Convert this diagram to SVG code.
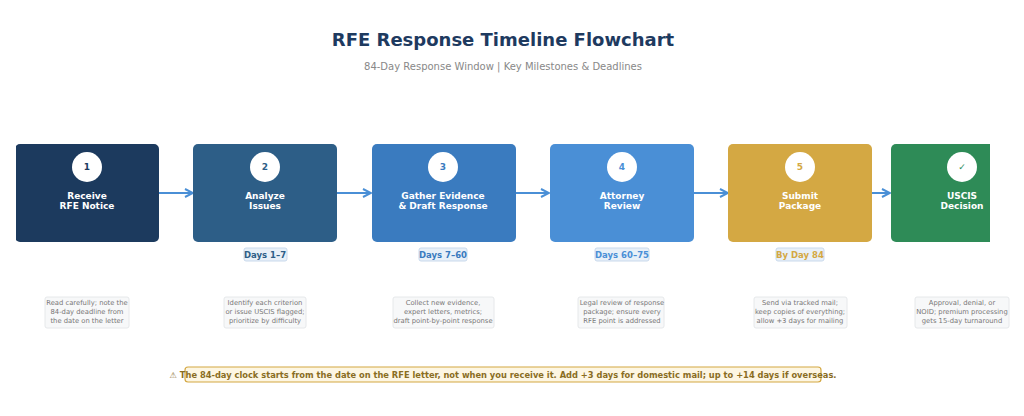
<svg xmlns="http://www.w3.org/2000/svg" width="1024" height="416" viewBox="0 0 1024 416">
<defs>
<style>
text{font-family:"DejaVu Sans",sans-serif;text-anchor:middle}
.t{font-size:18px;font-weight:bold;fill:#1e3a5f}
.s{font-size:10px;fill:#888}
.n{font-size:9px;font-weight:bold;fill:#fff}
.c{font-size:9px;font-weight:bold}
.b{font-size:8.5px;font-weight:bold}
.bb{fill:#e8f0f8;stroke:#c9d9ec;stroke-width:1}
.nb{fill:#f7f8f9;stroke:#e6e8ea;stroke-width:1}
.nt{font-size:6.8px;fill:#777}
.ar{stroke:#4a8fd6;stroke-width:2;fill:none;marker-end:url(#ah)}
</style>
<marker id="ah" viewBox="0 0 10 10" refX="9" refY="5" markerWidth="5" markerHeight="5" orient="auto"><path d="M1,1 L9,5 L1,9" fill="none" stroke="#4a8fd6" stroke-width="2"/></marker>
<clipPath id="cl"><rect x="16" y="0" width="974" height="416"/></clipPath>
</defs>
<rect width="1024" height="416" fill="#fff"/>
<text class="t" x="503" y="46">RFE Response Timeline Flowchart</text>
<text class="s" x="503" y="70">84-Day Response Window  |  Key Milestones &amp; Deadlines</text>
<g id="connectors">
<path class="ar" d="M159 193H193"/>
<path class="ar" d="M337 193H371"/>
<path class="ar" d="M515 193H549"/>
<path class="ar" d="M694 193H728"/>
<path class="ar" d="M872 193H890"/>
</g>
<g clip-path="url(#cl)">
<g id="n1"><rect x="15" y="144" width="144" height="98" rx="5" fill="#1c3a5e"/><circle cx="87" cy="167" r="15" fill="#fff"/><text class="c" x="87" y="170" fill="#1c3a5e">1</text><text class="n" x="87" y="199">Receive</text><text class="n" x="87" y="209">RFE Notice</text></g>
<g id="n2"><rect x="193" y="144" width="144" height="98" rx="5" fill="#2d5e87"/><circle cx="265" cy="167" r="15" fill="#fff"/><text class="c" x="265" y="170" fill="#2d5e87">2</text><text class="n" x="265" y="199">Analyze</text><text class="n" x="265" y="209">Issues</text></g>
<g id="n3"><rect x="372" y="144" width="144" height="98" rx="5" fill="#3a7bbf"/><circle cx="443" cy="167" r="15" fill="#fff"/><text class="c" x="443" y="170" fill="#3a7bbf">3</text><text class="n" x="443" y="199">Gather Evidence</text><text class="n" x="443" y="209">&amp; Draft Response</text></g>
<g id="n4"><rect x="550" y="144" width="144" height="98" rx="5" fill="#4a8fd6"/><circle cx="622" cy="167" r="15" fill="#fff"/><text class="c" x="622" y="170" fill="#4a8fd6">4</text><text class="n" x="622" y="199">Attorney</text><text class="n" x="622" y="209">Review</text></g>
<g id="n5"><rect x="728" y="144" width="144" height="98" rx="5" fill="#d4a843"/><circle cx="800" cy="167" r="15" fill="#fff"/><text class="c" x="800" y="170" fill="#d4a843">5</text><text class="n" x="800" y="199">Submit</text><text class="n" x="800" y="209">Package</text></g>
<g id="n6"><rect x="891" y="144" width="144" height="98" rx="5" fill="#2e8b57"/><circle cx="962" cy="167" r="15" fill="#fff"/><text class="c" x="962" y="170" fill="#2e8b57">✓</text><text class="n" x="962" y="199">USCIS</text><text class="n" x="962" y="209">Decision</text></g>
</g>
<g id="badges">
<rect class="bb" x="244" y="248" width="43" height="13" rx="2"/><text class="b" x="265" y="258" fill="#2d5e87">Days 1–7</text>
<rect class="bb" x="419" y="248" width="48" height="13" rx="2"/><text class="b" x="443" y="258" fill="#3a7bbf">Days 7–60</text>
<rect class="bb" x="595" y="248" width="54" height="13" rx="2"/><text class="b" x="622" y="258" fill="#4a8fd6">Days 60–75</text>
<rect class="bb" x="776" y="248" width="48" height="13" rx="2"/><text class="b" x="800" y="258" fill="#d4a843">By Day 84</text>
</g>
<g id="notes">
<rect class="nb" x="45" y="297" width="84" height="31" rx="2"/><text class="nt" x="87" y="305">Read carefully; note the</text><text class="nt" x="87" y="314">84-day deadline from</text><text class="nt" x="87" y="323">the date on the letter</text>
<rect class="nb" x="224" y="297" width="82" height="31" rx="2"/><text class="nt" x="265" y="305">Identify each criterion</text><text class="nt" x="265" y="314">or issue USCIS flagged;</text><text class="nt" x="265" y="323">prioritize by difficulty</text>
<rect class="nb" x="393" y="297" width="101" height="31" rx="2"/><text class="nt" x="443" y="305">Collect new evidence,</text><text class="nt" x="443" y="314">expert letters, metrics;</text><text class="nt" x="443" y="323">draft point-by-point response</text>
<rect class="nb" x="578" y="297" width="86" height="31" rx="2"/><text class="nt" x="622" y="305">Legal review of response</text><text class="nt" x="622" y="314">package; ensure every</text><text class="nt" x="622" y="323">RFE point is addressed</text>
<rect class="nb" x="754" y="297" width="93" height="31" rx="2"/><text class="nt" x="800" y="305">Send via tracked mail;</text><text class="nt" x="800" y="314">keep copies of everything;</text><text class="nt" x="800" y="323">allow +3 days for mailing</text>
<rect class="nb" x="915" y="297" width="94" height="31" rx="2"/><text class="nt" x="962" y="305">Approval, denial, or</text><text class="nt" x="962" y="314">NOID; premium processing</text><text class="nt" x="962" y="323">gets 15-day turnaround</text>
</g>
<g id="warning">
<rect x="185" y="367" width="636" height="15" rx="3" fill="#fdf6e3" stroke="#d4a843" stroke-width="1.2"/>
<text x="503" y="378" style="font-size:8.3px;font-weight:bold;fill:#8a6d1f">⚠  The 84-day clock starts from the date on the RFE letter, not when you receive it.  Add +3 days for domestic mail; up to +14 days if overseas.</text>
</g>
</svg>
